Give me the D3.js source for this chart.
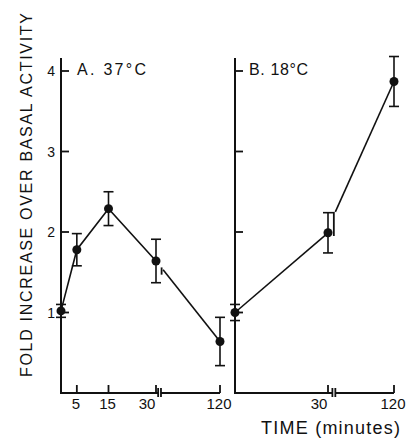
<!DOCTYPE html>
<html>
<head>
<meta charset="utf-8">
<script src="https://cdn.jsdelivr.net/npm/d3@7"></script>
<style>
  body { margin: 0; background: #fff; }
  text { font-family: "Liberation Sans", Arial, sans-serif; fill: #111; }
</style>
</head>
<body>
<div id="chart"></div>
<script>
// values (fold increase, mean and half error bar)
const timesA = [0, 5, 15, 30, 120];
const meanA = [1.02, 1.78, 2.29, 1.64, 0.64];
const errA = [0.08, 0.20, 0.21, 0.27, 0.30];

const timesB = [0, 30, 120];
const meanB = [1.0, 1.99, 3.87];
const errB = [0.10, 0.25, 0.31];

const xTicksA = [5, 15, 30, 120];
const xTicksB = [30, 120];
const yTicks = [1, 2, 3, 4];

// broken axis and broken line between 30 and 120 min
const axisBreakA = [33, 37];
const axisBreakB = [36, 40];
const lineBreakA = {t: 40, lo: 1.47, hi: 1.56, start: 1.53};
const lineBreakB = {t: 40, lo: 1.95, hi: 2.25, start: 2.25};

const W = 408, H = 440;
const svg = d3.select("#chart").append("svg")
    .attr("width", W)
    .attr("height", H);

const y = d3.scaleLinear().domain([0, 4]).range([393, 71]);
const ink = "#111";

function drawPanel(opt) {
    const x = d3.scaleLinear().domain([0, 30, 120]).range(opt.range);
    const g = svg.append("g");
    const x0 = opt.range[0], x1 = opt.range[2];

    // y axis line with inward ticks
    g.append("line")
        .attr("x1", x0).attr("x2", x0)
        .attr("y1", y(0)).attr("y2", y(4.16))
        .attr("stroke", ink).attr("stroke-width", 2);
    g.selectAll(".ytick").data(yTicks).join("line")
        .attr("x1", x0).attr("x2", x0 + 8)
        .attr("y1", d => y(d)).attr("y2", d => y(d))
        .attr("stroke", ink).attr("stroke-width", 1.8);
    if (opt.yLabels) {
        g.selectAll(".ylab").data(yTicks).join("text")
            .attr("x", x0 - 6).attr("y", d => y(d) + 5)
            .attr("text-anchor", "end")
            .attr("font-size", 14)
            .text(d => d);
    }

    // x axis, split at the break
    const xb = opt.axisBreak.map(x);
    g.append("line")
        .attr("x1", x0 - 1).attr("x2", xb[0])
        .attr("y1", y(0)).attr("y2", y(0))
        .attr("stroke", ink).attr("stroke-width", 2);
    g.append("line")
        .attr("x1", xb[1]).attr("x2", x1)
        .attr("y1", y(0)).attr("y2", y(0))
        .attr("stroke", ink).attr("stroke-width", 2);
    g.selectAll(".xbreak").data(xb).join("line")
        .attr("x1", d => d).attr("x2", d => d)
        .attr("y1", y(0) - 5).attr("y2", y(0) + 4)
        .attr("stroke", ink).attr("stroke-width", 1.8);
    g.selectAll(".xtick").data(opt.xTicks).join("line")
        .attr("x1", d => x(d)).attr("x2", d => x(d))
        .attr("y1", y(0)).attr("y2", y(0) - 8)
        .attr("stroke", ink).attr("stroke-width", 1.8);
    g.selectAll(".xlab").data(opt.xTicks).join("text")
        .attr("x", d => x(d) + (d === 30 ? -9 : -1))
        .attr("y", 409)
        .attr("text-anchor", "middle")
        .attr("font-size", 15)
        .text(d => d);

    // panel title next to the top tick
    g.append("text")
        .attr("x", x0 + opt.titleDx).attr("y", 75)
        .attr("font-size", 16)
        .attr("textLength", opt.titleLen)
        .attr("lengthAdjust", "spacing")
        .text(opt.title);

    const pts = opt.times.map((t, i) => ({t: t, v: opt.mean[i], e: opt.err[i]}));
    const before = pts.filter(d => d.t <= 30);
    const after = pts.filter(d => d.t > 30);
    const br = opt.lineBreak;

    const line = d3.line().x(d => x(d.t)).y(d => y(d.v));
    g.append("path")
        .attr("d", line(before))
        .attr("fill", "none").attr("stroke", ink).attr("stroke-width", 1.6);
    g.append("path")
        .attr("d", line([{t: br.t, v: br.start}].concat(after)))
        .attr("fill", "none").attr("stroke", ink).attr("stroke-width", 1.6);
    g.append("line")
        .attr("x1", x(br.t) - 1.5).attr("x2", x(br.t) - 1.5)
        .attr("y1", y(br.lo)).attr("y2", y(br.hi))
        .attr("stroke", ink).attr("stroke-width", 1.8);

    // error bars
    const eb = g.selectAll(".err").data(pts).join("g");
    eb.append("line")
        .attr("x1", d => x(d.t)).attr("x2", d => x(d.t))
        .attr("y1", d => y(d.v - d.e)).attr("y2", d => y(d.v + d.e))
        .attr("stroke", ink).attr("stroke-width", 1.6);
    eb.selectAll("line.cap").data(d => [d.v - d.e, d.v + d.e].map(v => ({t: d.t, v: v})))
        .join("line").attr("class", "cap")
        .attr("x1", d => x(d.t) - 5).attr("x2", d => x(d.t) + 5)
        .attr("y1", d => y(d.v)).attr("y2", d => y(d.v))
        .attr("stroke", ink).attr("stroke-width", 1.6);

    g.selectAll(".dot").data(pts).join("circle")
        .attr("cx", d => x(d.t)).attr("cy", d => y(d.v))
        .attr("r", 4.5)
        .attr("fill", ink);
}

drawPanel({
    range: [61, 156, 220],
    times: timesA, mean: meanA, err: errA,
    xTicks: xTicksA, axisBreak: axisBreakA, lineBreak: lineBreakA,
    yLabels: true, title: "A. 37°C", titleDx: 16, titleLen: 69
});
drawPanel({
    range: [235, 328, 394],
    times: timesB, mean: meanB, err: errB,
    xTicks: xTicksB, axisBreak: axisBreakB, lineBreak: lineBreakB,
    yLabels: false, title: "B. 18°C", titleDx: 14, titleLen: 59
});

// axis titles
svg.append("text")
    .attr("transform", "translate(32,195) rotate(-90)")
    .attr("text-anchor", "middle")
    .attr("font-size", 16)
    .attr("textLength", 364)
    .attr("lengthAdjust", "spacing")
    .text("FOLD INCREASE OVER BASAL ACTIVITY");

svg.append("text")
    .attr("x", 261).attr("y", 434)
    .attr("font-size", 18)
    .attr("textLength", 139)
    .attr("lengthAdjust", "spacing")
    .text("TIME (minutes)");
</script>
</body>
</html>
